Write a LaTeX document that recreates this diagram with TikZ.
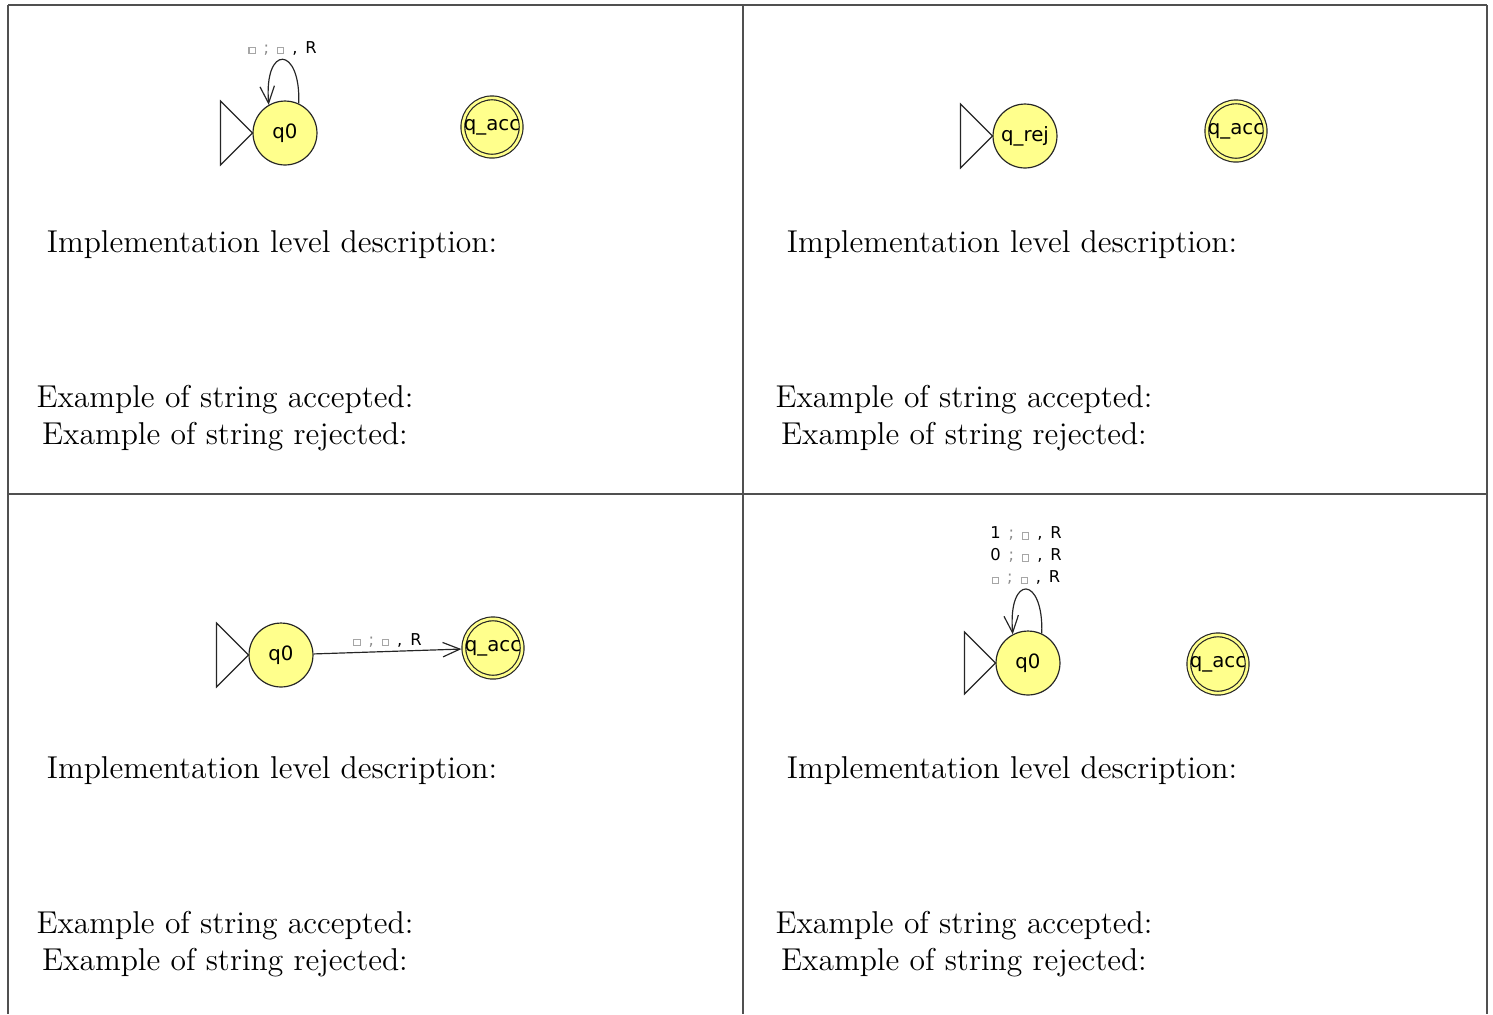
\documentclass[tikz,border=0pt]{standalone}
\usepackage{fontspec}
\newfontfamily\jf{DejaVu Sans}
\usetikzlibrary{arrows.meta}
\definecolor{jyellow}{RGB}{255,255,140}
\definecolor{rulegray}{RGB}{80,80,80}
\newcommand\blnk{{\color{black!35}\fboxsep=0pt\fboxrule=0.4pt\fbox{\rule{0pt}{2pt}\hspace{2pt}}}}
\newcommand\gsemi{\textcolor{black!45}{;}}
\newcommand\lsp{\hspace{3pt}}
\begin{document}
\begin{tikzpicture}[x=0.38pt,y=-0.38pt,
 state/.style={circle,draw=black!85,fill=jyellow,line width=0.45pt,minimum size=24.3pt,inner sep=0pt,font=\jf\fontsize{7.5}{9}\selectfont},
 accept/.style={state,double=jyellow,double distance=1.0pt,minimum size=22.1pt,outer sep=0.95pt},
 initmark/.style={draw=black!85,fill=white,line width=0.45pt},
 trans/.style={draw=black!85,line width=0.45pt,-{Straight Barb[length=6.5pt,width=5.5pt]}},
 tlabel/.style={font=\jf\fontsize{6.2}{8.4}\selectfont,inner sep=1.5pt,align=center},
 gridline/.style={draw=rulegray,line width=0.7pt},
 body/.style={font=\fontsize{12}{14.5}\selectfont,inner sep=0pt,anchor=base}]

\useasboundingbox (0,0) rectangle (1493,1014);

% table rules
\draw[gridline] (8,5) -- (1487,5);
\draw[gridline] (8,494) -- (1487,494);
\draw[gridline] (8,5) -- (8,1014);
\draw[gridline] (743,5) -- (743,1014);
\draw[gridline] (1487,5) -- (1487,1014);

% ---- top left
\node[state] (a0) at (285,133) {q0};
\node[accept] (aa) at (492,127) {q\_acc};
\draw[initmark] (a0.west) -- ++(-32,-32) -- ++(0,64) -- cycle;
\draw[trans] (a0.65) .. controls +(2,-58) and +(-5,-61) .. node[tlabel,above,pos=0.5] (al) {\blnk\lsp\gsemi\lsp\blnk\lsp,\lsp R} (a0.120);

% ---- top right
\node[state] (b0) at (1025,136) {q\_rej};
\node[accept] (ba) at (1236,131) {q\_acc};
\draw[initmark] (b0.west) -- ++(-32,-32) -- ++(0,64) -- cycle;

% ---- bottom left
\node[state] (c0) at (281,655) {q0};
\node[accept] (ca) at (493,648) {q\_acc};
\draw[initmark] (c0.west) -- ++(-32,-32) -- ++(0,64) -- cycle;
\draw[trans] (c0) -- node[tlabel,above,midway] (cl) {\blnk\lsp\gsemi\lsp\blnk\lsp,\lsp R} (ca);

% ---- bottom right
\node[state] (d0) at (1028,663) {q0};
\node[accept] (da) at (1218,664) {q\_acc};
\draw[initmark] (d0.west) -- ++(-31,-31) -- ++(0,62) -- cycle;
\draw[trans] (d0.65) .. controls +(2,-58) and +(-5,-61) .. node[tlabel,above,pos=0.5] (dl) {1\lsp\gsemi\lsp\blnk\lsp,\lsp R\\0\lsp\gsemi\lsp\blnk\lsp,\lsp R\\\blnk\lsp\gsemi\lsp\blnk\lsp,\lsp R} (d0.118);

% ---- texts
\node[body] (t1) at (272,252) {Implementation level description:};
\node[body] (t2) at (225,407) {Example of string accepted:};
\node[body] (t3) at (225,444) {Example of string rejected:};
\node[body] (t4) at (1012,252) {Implementation level description:};
\node[body] (t5) at (964,407) {Example of string accepted:};
\node[body] (t6) at (964,444) {Example of string rejected:};
\node[body] (t7) at (272,778) {Implementation level description:};
\node[body] (t8) at (225,933) {Example of string accepted:};
\node[body] (t9) at (225,970) {Example of string rejected:};
\node[body] (t10) at (1012,778) {Implementation level description:};
\node[body] (t11) at (964,933) {Example of string accepted:};
\node[body] (t12) at (964,970) {Example of string rejected:};
\end{tikzpicture}
\end{document}
